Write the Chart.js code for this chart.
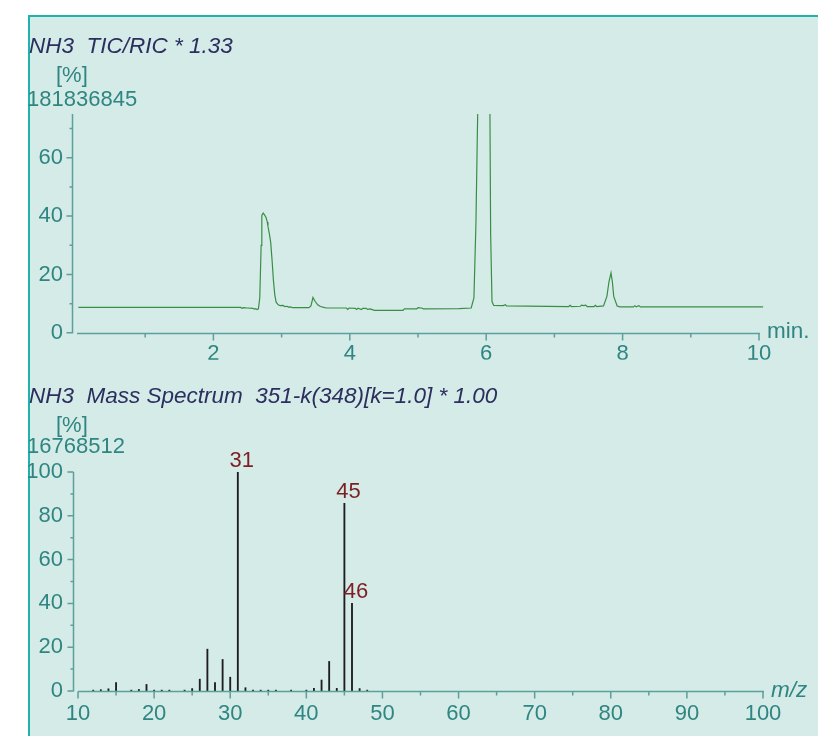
<!DOCTYPE html>
<html>
<head>
<meta charset="utf-8">
<title>NH3</title>
<script src="https://cdn.jsdelivr.net/npm/chart.js@4"></script>
<style>
  body { margin: 0; background: #fff; overflow: hidden; }
  #frame { position: absolute; left: 28px; top: 15px; width: 790px; height: 721px;
           background: #d4ebe8; border-top: 2px solid #1fb3aa; border-left: 2px solid #1fb3aa; }
  canvas { position: absolute; left: 0; }
  #tic { top: 0; }
  #ms { top: 360px; }
</style>
</head>
<body>
<div id="frame"></div>
<canvas id="tic" width="818" height="360"></canvas>
<canvas id="ms" width="818" height="376"></canvas>
<script>
// TIC trace: retention time (min) / relative intensity (%)
var ticTime = [0.02, 2.40, 2.42, 2.44, 2.50, 2.58, 2.60, 2.62, 2.64, 2.66, 2.68, 2.70, 2.71, 2.73, 2.75, 2.77, 2.79, 2.80,
  2.82, 2.84, 2.86, 2.88, 2.90, 2.92, 2.95, 2.98, 3.02, 3.05, 3.08, 3.10, 3.13, 3.16, 3.40, 3.43, 3.46, 3.49, 3.53, 3.57,
  3.62, 3.66, 3.95, 3.97, 3.99, 4.08, 4.10, 4.12, 4.17, 4.19, 4.24, 4.26, 4.30, 4.36, 4.78, 4.80, 4.98, 5.00, 5.05, 5.08,
  5.60, 5.78, 5.82, 5.85, 5.87, 5.89, 6.05, 6.065, 6.085, 6.11, 6.25, 6.28, 6.30, 7.21, 7.23, 7.25, 7.38, 7.40, 7.43,
  7.46, 7.48, 7.58, 7.60, 7.62, 7.72, 7.77, 7.80, 7.83, 7.85, 7.87, 7.92, 7.96, 8.16, 8.18, 8.20, 8.24, 8.26, 10.06];
var ticInt = [8.7, 8.7, 8.4, 8.6, 8.5, 8.4, 8.1, 8.3, 8.0, 8.2, 12, 30, 40.2, 41.0, 40.4, 39.6, 38.0, 36.5,
  34.0, 31.0, 25.0, 18.0, 13.0, 10.5, 9.6, 9.3, 9.4, 9.0, 9.1, 8.8, 8.9, 8.6, 8.6, 9.2, 12.1, 10.8, 9.6, 9.0,
  8.7, 8.5, 8.5, 8.0, 8.5, 8.4, 8.0, 8.4, 8.0, 8.4, 8.4, 8.0, 8.2, 7.7, 7.7, 8.2, 8.2, 8.6, 8.5, 8.2,
  8.3, 8.5, 12.0, 38, 68, 95, 95, 34, 10.7, 9.4, 9.3, 9.6, 9.2, 9.0, 9.4, 9.0, 9.1, 9.5, 9.3,
  9.5, 9.0, 9.0, 9.4, 9.0, 9.2, 12.5, 17.5, 20.5, 17.5, 12.5, 9.2, 8.9, 8.9, 9.3, 8.9, 9.3, 8.9, 8.9];
var timeTicks = [2, 4, 6, 8, 10];
var timeMinor = [1, 3, 5, 7, 9];
var ticYTicks = [0, 20, 40, 60];
var ticYMinor = [10, 30, 50, 70];

// mass spectrum: m/z / relative abundance (%)
var msMz = [12, 13, 14, 15, 17, 18, 19, 20, 21, 22, 24, 25, 26, 27, 28, 29, 30, 31, 32, 33, 34, 35, 36, 38,
  40, 41, 42, 43, 44, 45, 46, 47, 48];
var msInt = [0.4, 0.6, 1.0, 3.9, 0.4, 0.7, 3.0, 0.4, 0.4, 0.4, 0.4, 1.1, 5.4, 19.1, 3.9, 14.4, 6.3, 100, 1.5, 0.4, 0.4, 0.4, 0.4, 0.4,
  0.4, 1.2, 5.0, 13.5, 1.2, 85.7, 40.0, 1.1, 0.4];
var msPeakLabels = [31, 45, 46];
var mzTicks = [10, 20, 30, 40, 50, 60, 70, 80, 90, 100];
var mzMinor = [15, 25, 35, 45, 55, 65, 75, 85, 95];
var msYTicks = [0, 20, 40, 60, 80, 100];
var msYMinor = [10, 30, 50, 70, 90];

var TEAL = '#2f8581';
var AXIS = '#5c9f9c';
var NAVY = '#2c2e5e';
var FONT = '"Liberation Sans", Arial, sans-serif';

Chart.defaults.font.family = FONT;
Chart.defaults.font.size = 22;
Chart.defaults.color = TEAL;

// axis lines with long major / short minor tick marks
function axesPlugin(xMajor, xMinor, yMajor, yMinor) {
  return {
    id: 'axes',
    afterDraw: function(chart) {
      var ctx = chart.ctx, a = chart.chartArea;
      var xs = chart.scales.x, ys = chart.scales.y;
      var yx = a.left - 4.5;
      var xy = Math.round(a.bottom) + 0.5;
      ctx.save();
      ctx.strokeStyle = AXIS;
      ctx.lineWidth = 1.5;
      ctx.beginPath();
      ctx.moveTo(yx, ys.getPixelForValue(ys.max));
      ctx.lineTo(yx, xy);
      ctx.moveTo(a.left, xy);
      ctx.lineTo(a.right + 1, xy);
      yMajor.forEach(function(v) {
        var p = ys.getPixelForValue(v);
        ctx.moveTo(yx - 6, p); ctx.lineTo(yx, p);
      });
      yMinor.forEach(function(v) {
        var p = ys.getPixelForValue(v);
        ctx.moveTo(yx - 3, p); ctx.lineTo(yx, p);
      });
      xMajor.forEach(function(v) {
        var p = xs.getPixelForValue(v);
        ctx.moveTo(p, xy); ctx.lineTo(p, xy + 7);
      });
      xMinor.forEach(function(v) {
        var p = xs.getPixelForValue(v);
        ctx.moveTo(p, xy); ctx.lineTo(p, xy + 4);
      });
      ctx.stroke();
      ctx.restore();
    }
  };
}

function textPlugin(items) {
  return {
    id: 'texts',
    afterDraw: function(chart) {
      var ctx = chart.ctx;
      ctx.save();
      ctx.textBaseline = 'alphabetic';
      items.forEach(function(t) {
        ctx.font = t.font;
        ctx.fillStyle = t.color;
        ctx.textAlign = 'left';
        ctx.fillText(t.text, t.x, t.y);
      });
      ctx.restore();
    }
  };
}

function setTicks(values) {
  return function(scale) {
    scale.ticks = values.map(function(v) { return { value: v }; });
  };
}

// chromatogram
new Chart(document.getElementById('tic'), {
  type: 'line',
  data: {
    datasets: [{
      data: ticTime.map(function(t, i) { return { x: t, y: ticInt[i] }; }),
      borderColor: '#3b8d46',
      borderWidth: 1.2,
      pointRadius: 0,
      tension: 0,
      fill: false,
      clip: { left: 0, top: 0, right: 6, bottom: 0 }
    }]
  },
  options: {
    responsive: false,
    animation: false,
    events: [],
    layout: { padding: { left: 0, top: 114, right: 59, bottom: 0 } },
    plugins: { legend: { display: false }, tooltip: { enabled: false } },
    scales: {
      x: {
        type: 'linear', min: 0, max: 10,
        grid: { display: false, drawTicks: false },
        border: { display: false },
        afterBuildTicks: setTicks(timeTicks),
        afterFit: function(s) { s.height = 27; },
        ticks: { padding: 8, maxRotation: 0, autoSkip: false }
      },
      y: {
        min: 0, max: 75,
        grid: { display: false, drawTicks: false },
        border: { display: false },
        afterBuildTicks: setTicks(ticYTicks),
        afterFit: function(s) { s.width = 77; },
        ticks: { padding: 14 }
      }
    }
  },
  plugins: [
    axesPlugin(timeTicks, timeMinor, ticYTicks, ticYMinor),
    textPlugin([
      { text: 'NH3  TIC/RIC * 1.33', x: 29, y: 52.5, font: 'italic 22.5px ' + FONT, color: NAVY },
      { text: '[%]', x: 56, y: 81.5, font: '22px ' + FONT, color: TEAL },
      { text: '181836845', x: 27, y: 106, font: '22px ' + FONT, color: TEAL },
      { text: 'min.', x: 767, y: 338, font: '22.5px ' + FONT, color: TEAL }
    ])
  ]
});

// peak labels over the main ions
var peakLabelPlugin = {
  id: 'peakLabels',
  afterDatasetsDraw: function(chart) {
    var ctx = chart.ctx, xs = chart.scales.x, ys = chart.scales.y;
    ctx.save();
    ctx.font = '22px ' + FONT;
    ctx.fillStyle = '#7d1f22';
    ctx.textAlign = 'center';
    ctx.textBaseline = 'alphabetic';
    msPeakLabels.forEach(function(mz) {
      var v = msInt[msMz.indexOf(mz)];
      ctx.fillText(String(mz), xs.getPixelForValue(mz) + 4, ys.getPixelForValue(v) - 5);
    });
    ctx.restore();
  }
};

// mass spectrum
new Chart(document.getElementById('ms'), {
  type: 'bar',
  data: {
    datasets: [{
      data: msMz.map(function(m, i) { return { x: m, y: msInt[i] }; }),
      backgroundColor: '#1e1e1e',
      borderWidth: 0,
      barThickness: 1.2
    }]
  },
  options: {
    responsive: false,
    animation: false,
    events: [],
    layout: { padding: { left: 0, top: 112, right: 55, bottom: 0 } },
    plugins: { legend: { display: false }, tooltip: { enabled: false } },
    scales: {
      x: {
        type: 'linear', min: 10, max: 100, offset: false,
        grid: { display: false, drawTicks: false, offset: false },
        border: { display: false },
        afterBuildTicks: setTicks(mzTicks),
        afterFit: function(s) { s.height = 45; },
        ticks: { padding: 10, maxRotation: 0, autoSkip: false }
      },
      y: {
        min: 0, max: 100,
        grid: { display: false, drawTicks: false },
        border: { display: false },
        afterBuildTicks: setTicks(msYTicks),
        afterFit: function(s) { s.width = 78; },
        ticks: { padding: 15 }
      }
    }
  },
  plugins: [
    axesPlugin(mzTicks, mzMinor, msYTicks, msYMinor),
    peakLabelPlugin,
    textPlugin([
      { text: 'NH3  Mass Spectrum  351-k(348)[k=1.0] * 1.00', x: 29, y: 43, font: 'italic 22.5px ' + FONT, color: NAVY },
      { text: '[%]', x: 56, y: 71.5, font: '22px ' + FONT, color: TEAL },
      { text: '16768512', x: 27, y: 93.3, font: '22px ' + FONT, color: TEAL },
      { text: 'm/z', x: 771, y: 336.5, font: 'italic 22.5px ' + FONT, color: TEAL }
    ])
  ]
});
</script>
</body>
</html>
